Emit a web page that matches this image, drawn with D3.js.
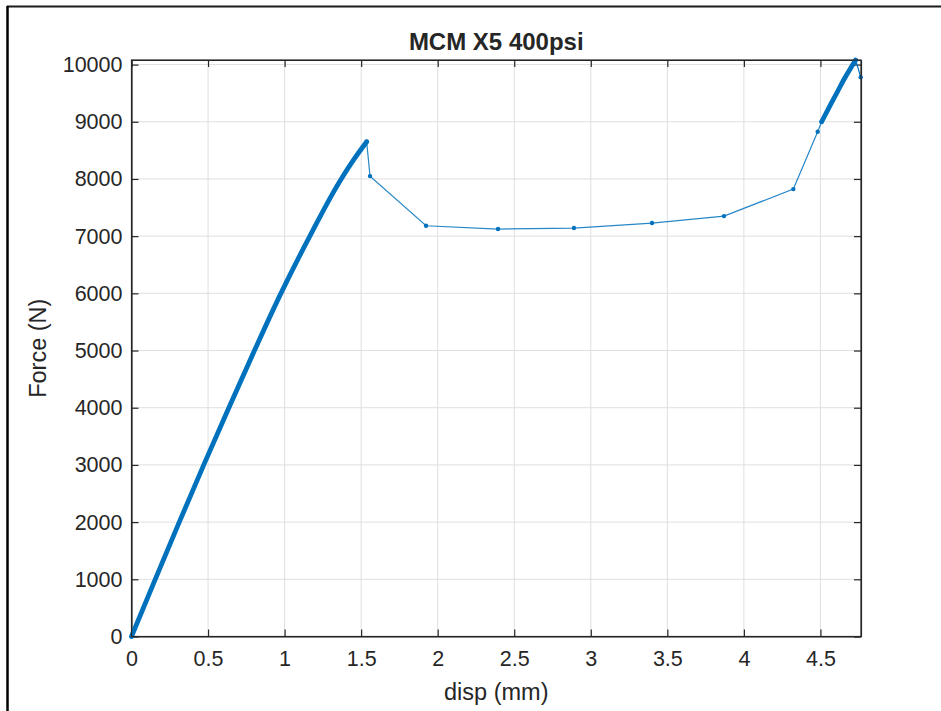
<!DOCTYPE html>
<html>
<head>
<meta charset="utf-8">
<script src="https://cdn.jsdelivr.net/npm/d3@7"></script>
<style>
  html, body { margin: 0; padding: 0; background: #fff; }
  svg { display: block; }
  text { font-family: "Liberation Sans", Arial, Helvetica, sans-serif; fill: #262626; }
</style>
</head>
<body>
<svg id="chart" width="941" height="711"></svg>
<script>
// ---- data ----
const title = "MCM X5 400psi";
const xLabel = "disp (mm)";
const yLabel = "Force (N)";
const xTicks = [0, 0.5, 1, 1.5, 2, 2.5, 3, 3.5, 4, 4.5];
const xTickLabels = ["0", "0.5", "1", "1.5", "2", "2.5", "3", "3.5", "4", "4.5"];
const yTicks = [0, 1000, 2000, 3000, 4000, 5000, 6000, 7000, 8000, 9000, 10000];
const yTickLabels = ["0", "1000", "2000", "3000", "4000", "5000", "6000", "7000", "8000", "9000", "10000"];

// dense loading ramp (many samples -> thick trace)
const rampDisp  = [0, 0.155, 0.312, 0.472, 0.636, 0.803, 0.976, 1.165, 1.37, 1.455, 1.536];
const rampForce = [0, 1000, 2000, 3000, 4000, 5000, 6000, 7000, 8000, 8350, 8650];
// sparse samples after first peak
const sparseDisp  = [1.536, 1.558, 1.924, 2.394, 2.89, 3.40, 3.87, 4.323, 4.482, 4.508];
const sparseForce = [8650, 8050, 7182, 7124, 7142, 7229, 7351, 7823, 8825, 9000];
// dense second ramp
const ramp2Disp  = [4.508, 4.56, 4.61, 4.66, 4.70, 4.73];
const ramp2Force = [9000, 9270, 9520, 9770, 9950, 10080];
// final drop
const endDisp  = [4.73, 4.763];
const endForce = [10080, 9780];

const xDomain = [0, 4.765];
const yDomain = [0, 10080];

// ---- layout ----
const svg = d3.select("#chart");
const L = 131.5, R = 861, T = 60, B = 636.5;
const x = d3.scaleLinear().domain(xDomain).range([L, R]);
const y = d3.scaleLinear().domain(yDomain).range([B, T]);
const blue = "#0072BD";
const axisCol = "#262626";

// outer frame (screenshot border)
svg.append("line").attr("x1", 7).attr("x2", 941).attr("y1", 6.5).attr("y2", 6.5)
  .attr("stroke", "#1a1a1a").attr("stroke-width", 2);
svg.append("line").attr("x1", 7.5).attr("x2", 7.5).attr("y1", 6).attr("y2", 711)
  .attr("stroke", "#000").attr("stroke-width", 2.5);

// grid
const g = svg.append("g");
g.selectAll(".gx").data(xTicks).enter().append("line")
  .attr("x1", d => x(d)).attr("x2", d => x(d)).attr("y1", T).attr("y2", B)
  .attr("stroke", "#dfdfdf").attr("stroke-width", 1);
g.selectAll(".gy").data(yTicks).enter().append("line")
  .attr("x1", L).attr("x2", R).attr("y1", d => y(d)).attr("y2", d => y(d))
  .attr("stroke", "#dfdfdf").attr("stroke-width", 1);

// axes via d3 (ticks inward)
const tl = 7;
const axB = d3.axisBottom(x).tickValues(xTicks).tickFormat((d, i) => xTickLabels[i]).tickSizeInner(-tl).tickSizeOuter(0).tickPadding(14);
const axT = d3.axisTop(x).tickValues(xTicks).tickFormat("").tickSizeInner(-tl).tickSizeOuter(0);
const axL = d3.axisLeft(y).tickValues(yTicks).tickFormat((d, i) => yTickLabels[i]).tickSizeInner(-tl).tickSizeOuter(0).tickPadding(9);
const axR = d3.axisRight(y).tickValues(yTicks).tickFormat("").tickSizeInner(-tl).tickSizeOuter(0);

function styleAxis(sel) {
  sel.select(".domain").attr("stroke", axisCol).attr("stroke-width", 1.2);
  sel.selectAll(".tick line").attr("stroke", axisCol).attr("stroke-width", 1.2);
  sel.selectAll(".tick text").attr("font-size", "21.5px").attr("fill", axisCol)
    .style("font-family", "'Liberation Sans', Arial, sans-serif");
}
svg.append("g").attr("transform", `translate(0,${B})`).call(axB).call(styleAxis);
svg.append("g").attr("transform", `translate(0,${T})`).call(axT).call(styleAxis);
svg.append("g").attr("transform", `translate(${L},0)`).call(axL).call(styleAxis);
svg.append("g").attr("transform", `translate(${R},0)`).call(axR).call(styleAxis);

// data traces
const line = d3.line().x(d => x(d[0])).y(d => y(d[1]));
const smooth = d3.line().x(d => x(d[0])).y(d => y(d[1])).curve(d3.curveMonotoneY);
const ramp = rampDisp.map((d, i) => [d, rampForce[i]]);
const sparse = sparseDisp.map((d, i) => [d, sparseForce[i]]);
const ramp2 = ramp2Disp.map((d, i) => [d, ramp2Force[i]]);
const endPts = endDisp.map((d, i) => [d, endForce[i]]);

const clip = svg.append("clipPath").attr("id", "clip").append("rect")
  .attr("x", L - 4).attr("y", T - 4).attr("width", R - L + 8).attr("height", B - T + 8);
const plot = svg.append("g").attr("clip-path", "url(#clip)");

plot.append("path").datum(sparse)
  .attr("d", line).attr("fill", "none").attr("stroke", blue).attr("stroke-width", 1.2).attr("opacity", 0.85);
plot.append("path").datum(endPts)
  .attr("d", line).attr("fill", "none").attr("stroke", blue).attr("stroke-width", 1.2);
plot.append("path").datum(ramp)
  .attr("d", smooth).attr("fill", "none").attr("stroke", blue).attr("stroke-width", 4.8)
  .attr("stroke-linecap", "round").attr("stroke-linejoin", "round");
plot.append("path").datum(ramp2)
  .attr("d", smooth).attr("fill", "none").attr("stroke", blue).attr("stroke-width", 4.8)
  .attr("stroke-linecap", "round").attr("stroke-linejoin", "round");
plot.selectAll(".mk").data(sparse.concat(endPts)).enter().append("circle")
  .attr("cx", d => x(d[0])).attr("cy", d => y(d[1])).attr("r", 2.2).attr("fill", blue);

// redraw box border on top
svg.append("rect").attr("x", L).attr("y", T).attr("width", R - L).attr("height", B - T)
  .attr("fill", "none").attr("stroke", axisCol).attr("stroke-width", 1.2);

// texts
svg.append("text").attr("x", (L + R) / 2).attr("y", 50).attr("text-anchor", "middle")
  .attr("font-size", "24px").attr("font-weight", "bold").attr("fill", "#000").text(title);
svg.append("text").attr("x", (L + R) / 2).attr("y", 700).attr("text-anchor", "middle")
  .attr("font-size", "23.5px").text(xLabel);
svg.append("text").attr("transform", `translate(46,${(T + B) / 2}) rotate(-90)`)
  .attr("text-anchor", "middle").attr("font-size", "23.5px").text(yLabel);
</script>
</body>
</html>
